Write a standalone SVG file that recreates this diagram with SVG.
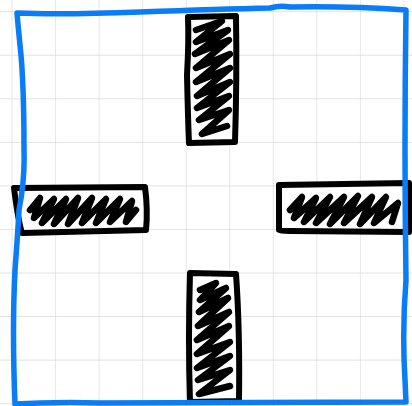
<svg xmlns="http://www.w3.org/2000/svg" width="412" height="406" viewBox="0 0 412 406">
  <defs>
    <pattern id="grid" x="11.5" y="11.2" width="43.55" height="43.55" patternUnits="userSpaceOnUse">
      <path d="M0 0 H43.55 M0 0 V43.55" fill="none" stroke="#dadada" stroke-width="1.3"/>
    </pattern>
  </defs>
  <style>
    .outline { fill: #ffffff; stroke: #000; stroke-width: 6; stroke-linecap: round; stroke-linejoin: round; }
    .hatch { fill: none; stroke: #000; stroke-width: 6.5; stroke-linecap: round; stroke-linejoin: round; }
    .frame { fill: none; stroke: #0a7cf6; stroke-width: 5.5; stroke-linecap: round; stroke-linejoin: round; }
  </style>
  <rect width="412" height="406" fill="#ffffff"/>
  <rect width="412" height="406" fill="url(#grid)"/>

  <g id="top-block">
    <path class="outline" d="M188 17 L236 16 Q237 80 235 142 L189 143 Q188 120 187 75 Q189 40 188 17 Z"/>
    <path class="hatch" d="M196 30 L222 21 L196 42 L228 30 L195 54 L229 40 L196 68 L230 54 L196 82 L230 68 L197 96 L230 82 L197 108 L229 96 L199 120 L229 110 L202 134 L227 126"/>
  </g>

  <g id="left-block">
    <path class="outline" d="M14 188 L145 187 Q148 210 146 230 L22 233 Q18 220 14 188 Z"/>
    <path class="hatch" d="M30 210 L40 198 L34 218 L54 199 L42 223 L66 199 L54 224 L78 198 L68 224 L92 198 L82 223 L106 199 L96 223 L120 199 L110 222 L132 201 L126 222 L136 210"/>
  </g>

  <g id="right-block">
    <path class="outline" d="M279 185 L409 183 L409 232 L290 231 Q280 231 279 230 Z"/>
    <path class="hatch" d="M290 210 L302 197 L294 218 L316 198 L304 222 L330 197 L316 223 L344 197 L330 224 L358 196 L344 223 L372 197 L360 224 L386 197 L374 223 L398 203 L392 222"/>
  </g>

  <g id="bottom-block">
    <path class="outline" d="M190 273 L236 274 Q240 330 239 401 L190 402 Q188 340 190 273 Z"/>
    <path class="hatch" d="M200 290 L216 283 L200 300 L226 288 L199 312 L228 298 L198 326 L229 312 L197 340 L229 326 L197 354 L230 342 L197 368 L230 356 L198 380 L230 370 L199 394 L230 386"/>
  </g>

  <g id="frame">
    <path class="frame" d="M17 13 Q60 15 140 12 Q220 9 270 8 Q280 5 290 7 Q350 6 406 10 Q404 150 406 280 Q402 330 405 380 L406 402 Q300 402 100 403 Q70 402 40 403 L15 404 Q12 330 15 270 Q18 230 19 210 Q25 180 24 150 Q24 80 20 45 Q18 25 17 13 Z"/>
  </g>
</svg>
